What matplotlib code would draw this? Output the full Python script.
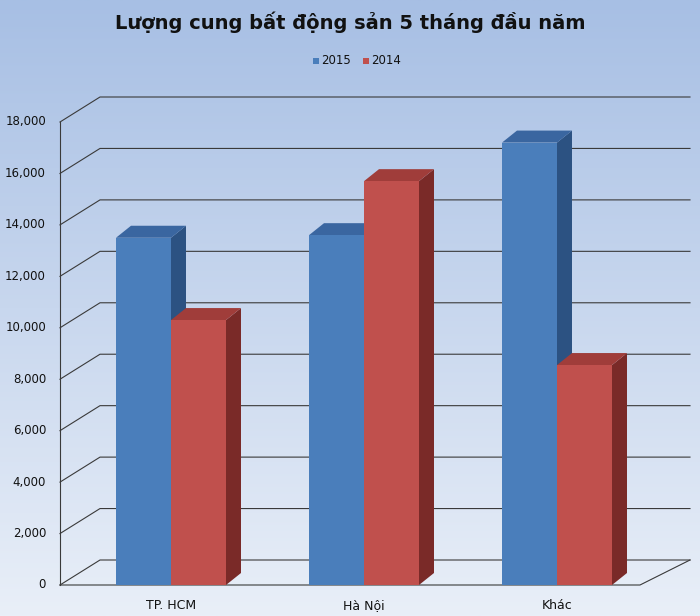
import numpy as np
import matplotlib.pyplot as plt
from matplotlib.patches import Polygon, Rectangle
from matplotlib.colors import LinearSegmentedColormap

categories = ["TP. HCM", "Hà Nội", "Khác"]
series_names = ["2015", "2014"]
values_2015 = [13500, 13600, 17200]
values_2014 = [10300, 15700, 8550]
yticks = list(range(0, 18001, 2000))

front_cols = ["#4a7ebb", "#c0504d"]
side_cols = ["#2c5282", "#7a2a28"]
top_cols = ["#3a66a0", "#a03d3a"]

k = 463 / 18000.0  # pixels per unit
fig = plt.figure(figsize=(7, 6.16), dpi=100)
ax = fig.add_axes([0, 0, 1, 1])
ax.set_xlim(0, 700)
ax.set_ylim((585 - 616) / k, 585 / k)
ax.axis("off")

# background gradient
grad = np.linspace(0, 1, 256).reshape(-1, 1)
cmap = LinearSegmentedColormap.from_list("bg", ["#a7bfe4", "#e9eff8"])
ax.imshow(grad, cmap=cmap, aspect="auto", extent=[0, 700, (585 - 616) / k, 585 / k], zorder=0)

dv = 25 / k  # back wall depth
# grid lines
for t in yticks:
    ax.plot([60, 100, 690], [t, t + dv, t + dv], color="#3a3a3a", lw=0.8, zorder=1)
    ax.text(46, t, f"{t:,}", ha="right", va="center", fontsize=8.5, color="#111", zorder=3)
ax.plot([60, 60], [0, 18000], color="#3a3a3a", lw=0.8, zorder=1)
ax.plot([60, 640, 690], [0, 0, dv], color="#3a3a3a", lw=0.8, zorder=1)

dx, dy = 15, 12 / k
width = 55
centers = [171, 364, 557]
for i, c in enumerate(centers):
    for j, vals in enumerate([values_2015, values_2014]):
        x0 = c - width + j * width
        v = vals[i]
        ax.add_patch(Polygon([(x0 + width, 0), (x0 + width + dx, dy), (x0 + width + dx, v + dy), (x0 + width, v)],
                             closed=True, fc=side_cols[j], ec="none", zorder=2 + j))
        ax.add_patch(Polygon([(x0, v), (x0 + dx, v + dy), (x0 + width + dx, v + dy), (x0 + width, v)],
                             closed=True, fc=top_cols[j], ec="none", zorder=2 + j))
        ax.add_patch(Rectangle((x0, 0), width, v, fc=front_cols[j], ec="none", zorder=2 + j))
    ax.text(c, -780, categories[i], ha="center", va="center", fontsize=9, color="#111")

ax.text(350, 585 / k - 22 / k, "Lượng cung bất động sản 5 tháng đầu năm", ha="center", va="center",
        fontsize=14, fontweight="bold", color="#111")
for j, name in enumerate(series_names):
    lx = 313 + j * 50
    ax.add_patch(Rectangle((lx, 585 / k - 64 / k), 6, 6 / k, fc=front_cols[j], ec="none", zorder=3))
    ax.text(lx + 8, 585 / k - 60 / k, name, ha="left", va="center", fontsize=8.5, color="#111")

fig.savefig("out.png", dpi=100)
